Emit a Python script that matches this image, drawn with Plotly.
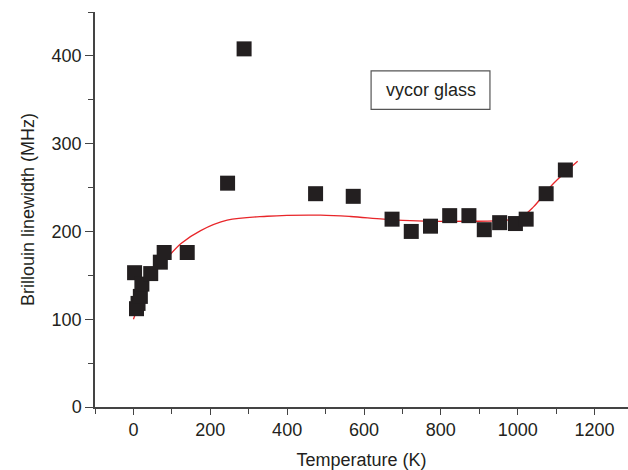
import plotly.graph_objects as go

# Measured data (Brillouin linewidth vs temperature, vycor glass)
temp_k = [3, 8, 12, 18, 22, 45, 70, 80, 140, 245, 288, 474, 572, 673, 723, 773, 823, 873, 913, 953, 994, 1022, 1074, 1124]
linewidth_mhz = [153, 112, 118, 126, 140, 152, 165, 176, 176, 255, 408, 243, 240, 214, 200, 206, 218, 218, 202, 210, 209, 214, 243, 270]

# Fitted curve (red line)
fit_temp = [0, 10, 28, 41, 71, 123, 175, 244, 348, 487, 565, 651, 738, 868, 972, 1011, 1041, 1093, 1156]
fit_width = [100, 112, 133, 148, 161.5, 186, 201, 212.8, 217.3, 218.5, 217, 214, 212, 211.6, 212.8, 217, 228, 254.6, 280]

x_ticks = [0, 200, 400, 600, 800, 1000, 1200]
y_ticks = [0, 100, 200, 300, 400]

FONT = "Liberation Sans, Arial, sans-serif"
TXT = "#231f20"
AX = "#444444"

fig = go.Figure()
fig.add_trace(go.Scatter(
    x=fit_temp, y=fit_width, mode="lines", line=dict(color="#e8262a", width=1.3, shape="spline"),
    showlegend=False, hoverinfo="skip"))
fig.add_trace(go.Scatter(
    x=temp_k, y=linewidth_mhz, mode="markers",
    marker=dict(symbol="square", size=15, color="#231f20", line=dict(width=0)),
    showlegend=False, cliponaxis=False))

fig.update_layout(
    width=628, height=470,
    margin=dict(l=95, r=0, t=12, b=63),
    paper_bgcolor="white", plot_bgcolor="white",
    font=dict(family=FONT, size=18, color=TXT),
    xaxis=dict(
        range=[-100, 1287], tickvals=x_ticks, ticktext=[str(v) for v in x_ticks],
        showgrid=False, zeroline=False, showline=True, linecolor=AX, linewidth=1.5,
        ticks="outside", ticklen=6, tickwidth=1.3, tickcolor=AX,
        minor=dict(tickvals=[-100, 100, 300, 500, 700, 900, 1100], ticks="outside", ticklen=5, tickwidth=1.3, tickcolor=AX),
        title=dict(text="Temperature (K)", font=dict(size=18, color=TXT), standoff=14),
        tickfont=dict(size=18, color=TXT),
    ),
    yaxis=dict(
        range=[0, 450], tickvals=y_ticks, ticktext=[str(v) for v in y_ticks],
        showgrid=False, zeroline=False, showline=True, linecolor=AX, linewidth=1.5,
        ticks="outside", ticklen=8, tickwidth=1.3, tickcolor=AX,
        minor=dict(tickvals=[50, 150, 250, 350, 450], ticks="outside", ticklen=5, tickwidth=1.3, tickcolor=AX),
        title=dict(text="Brillouin linewidth (MHz)", font=dict(size=18, color=TXT), standoff=12),
        tickfont=dict(size=18, color=TXT),
    ),
    shapes=[dict(type="rect", xref="paper", yref="paper", x0=0.518, x1=0.741, y0=0.7535, y1=0.851,
                 line=dict(color="#555555", width=1.2), fillcolor="rgba(0,0,0,0)")],
    annotations=[dict(text="vycor glass", xref="paper", yref="paper", x=0.6295, y=0.8022,
                      xanchor="center", yanchor="middle", showarrow=False,
                      font=dict(size=18, color=TXT))],
)

fig.write_html("out.html")
